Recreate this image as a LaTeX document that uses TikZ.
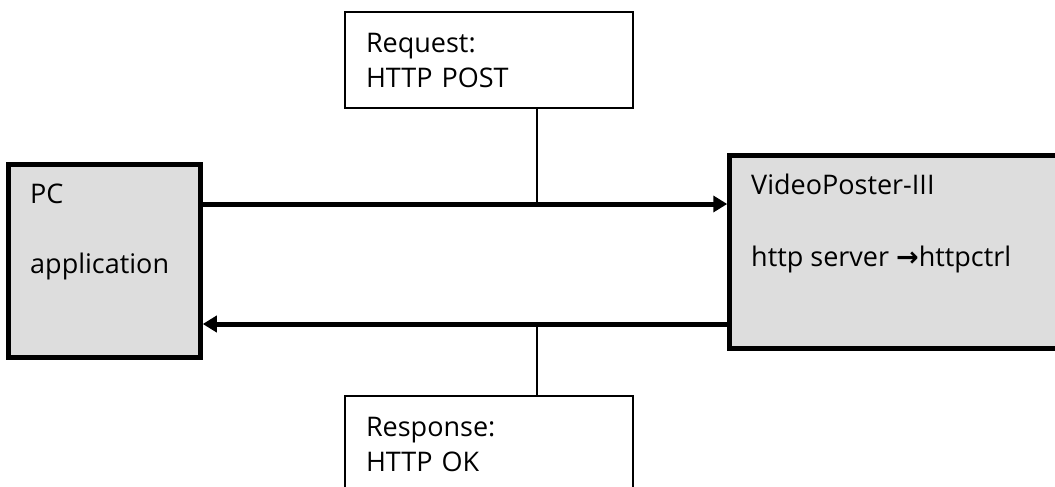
\documentclass[tikz,border=0pt]{standalone}
\usepackage{fontspec}
\setmainfont{Open Sans}
\newfontfamily\arrowfont{DejaVu Sans}
\usetikzlibrary{arrows.meta}
\definecolor{boxgray}{RGB}{221,221,221}
\newcommand\diagfont{\fontsize{27}{35}\selectfont}
\begin{document}
\begin{tikzpicture}[x=1pt,y=-1pt,
  hostbox/.style={draw,line width=4.5pt,fill=boxgray,inner sep=0pt},
  hosttext/.style={anchor=north west,inner sep=0pt,align=left,font=\diagfont},
  msgbox/.style={draw,line width=2pt,fill=white,minimum width=288pt,minimum height=96pt,
    text width=246pt,inner sep=0pt,align=left,font=\diagfont},
  link/.style={line width=5pt,-{Triangle[length=14pt,width=16pt]}}]
\useasboundingbox (0,0) rectangle (1055,487);
\clip (0,0) rectangle (1055,487);
\node[hostbox,minimum width=192pt,minimum height=193pt] (pc) at (104.5,261) {};
\node[hostbox,minimum width=371pt,minimum height=193pt] (vp) at (915,252) {};
\node[hosttext] (pctext) at (30,184) {PC\\[35pt]application};
\node[hosttext] (vptext) at (751,174) {VideoPoster-III\\[37pt]http server {\arrowfont\bfseries →}httpctrl};
\node[msgbox] (req) at (489,60) {Request:\\HTTP POST};
\node[msgbox] (resp) at (489,444) {Response:\\HTTP OK};
\coordinate (up) at (537,204);
\coordinate (down) at (537,324);
\draw[line width=1.5pt] (req.south -| up) -- (up);
\draw[line width=1.5pt] (resp.north -| down) -- (down);
\draw[link] (pc.east |- up) -- (vp.west |- up);
\draw[link] (vp.west |- down) -- (pc.east |- down);
\end{tikzpicture}
\end{document}
